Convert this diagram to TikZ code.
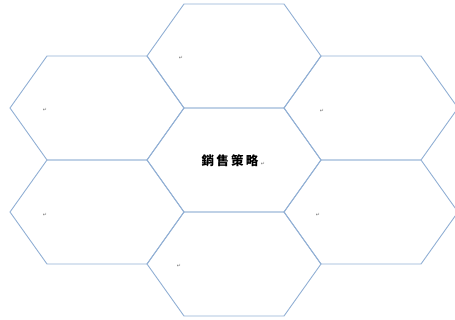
\documentclass[tikz,border=0pt]{standalone}
\usepackage{fontspec}
\newfontfamily\cjk{Noto Sans CJK TC}[LetterSpace=18]
\newfontfamily\symb{DejaVu Sans}
\usetikzlibrary{positioning}
\definecolor{hexblue}{RGB}{145,175,212}
\definecolor{markgray}{RGB}{110,110,110}

\begin{document}
\begin{tikzpicture}[x=1pt, y=1pt,
    hexline/.style={draw=hexblue, line width=0.9pt, line join=miter},
    title/.style={font=\cjk\bfseries\fontsize{12.5}{14}\selectfont, inner sep=0pt},
    parmark/.style={font=\symb\fontsize{5}{5}\selectfont, text=markgray, inner sep=0pt}
]
\useasboundingbox (0,0) rectangle (455,320);

% Cells of the honeycomb
\foreach \name/\cx/\cy in {mid/234/160, top/234/264, bot/234/56, lu/97/212, ll/97/108, ru/371/212, rl/371/108}{
    \coordinate (\name) at (\cx,\cy);
    \draw[hexline, shift={(\cx,\cy)}] (-87,0) -- (-50,52) -- (50,52) -- (87,0) -- (50,-52) -- (-50,-52) -- cycle;
}

% Centre text
\node[title] (strategy) at (230,159) {銷售策略};
\node[parmark, anchor=base west] (midmark) at ([xshift=2pt]strategy.base east) {↵};

% Empty paragraph marks
\node[parmark] (topmark) at ([shift={(-53,-2)}]top) {↵};
\node[parmark] (lumark) at ([shift={(-52,-2)}]lu) {↵};
\node[parmark] (llmark) at ([shift={(-52,-3)}]ll) {↵};
\node[parmark] (rumark) at ([shift={(-49,-3)}]ru) {↵};
\node[parmark] (rlmark) at ([shift={(-53,-3)}]rl) {↵};
\node[parmark] (botmark) at ([shift={(-55,-2)}]bot) {↵};

\end{tikzpicture}
\end{document}
